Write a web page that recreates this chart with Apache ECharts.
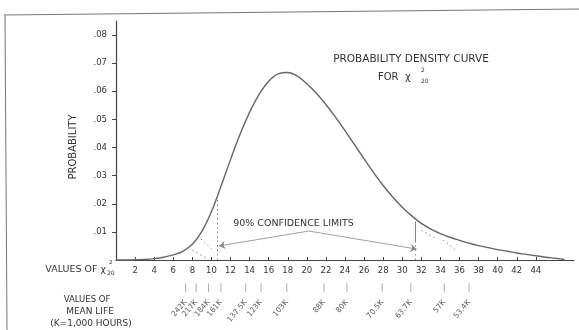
<!DOCTYPE html>
<html><head><meta charset="utf-8">
<script src="https://cdn.jsdelivr.net/npm/echarts@6/dist/echarts.min.js"></script>
<style>html,body{margin:0;padding:0;background:#fff}#c{width:579px;height:330px}</style>
</head><body><div id="c"></div>
<script>
// ---- data ----
const chiValues = [0,1,2,3,4,5,6,7,8,9,10,11,12,13,14,15,16,17,18,19,20,21,22,23,24,25,26,27,28,29,30,31,32,33,34,35,36,37,38,39,40,41,42,43,44,45,46,47];
const probability = [0,0,0.0001,0.0002,0.0005,0.0010,0.0018,0.0031,0.0056,0.0102,0.0172,0.0262,0.0357,0.0447,0.0525,0.0589,0.0636,0.0662,0.0667,0.0654,0.0627,0.0593,0.0553,0.0508,0.0460,0.0410,0.0360,0.0311,0.0265,0.0224,0.0188,0.0157,0.0130,0.0110,0.0094,0.0081,0.0070,0.0060,0.0051,0.0044,0.0037,0.0031,0.0025,0.0020,0.0015,0.0010,0.0006,0.0002];
const xTickValues = [2,4,6,8,10,12,14,16,18,20,22,24,26,28,30,32,34,36,38,40,42,44];
const yTickValues = [0.01,0.02,0.03,0.04,0.05,0.06,0.07,0.08];
const yTickLabels = ['.01','.02','.03','.04','.05','.06','.07','.08'];
const meanLifeLabels = ['242K','217K','184K','161K','137.5K','123K','103K','88K','80K','70.5K','63.7K','57K','53.4K'];
const meanLifePositions = [7.3,8.4,9.7,11.0,13.6,15.2,17.9,21.8,24.2,27.9,30.9,34.4,37.0];
const confidenceLimits = [10.6, 31.4];
const confidenceHeights = [0.0225, 0.0137];
const annotationApex = [20.2, 0.0103];
const annotationTips = [[10.8, 0.0050], [31.5, 0.0039]];
const annotationText = '90% CONFIDENCE LIMITS';
const annotationTextPos = [18.6, 0.0128];
const hatchSegments = [
  [[8.9, 0.0075], [10.3, 0.0030]],
  [[8.0, 0.0035], [9.6, 0.0004]],
  [[32.0, 0.0105], [33.6, 0.0075]],
  [[34.3, 0.0070], [35.8, 0.0030]]
];

const FONT = 'DejaVu Sans';
const TXT = '#333';
const curveData = chiValues.map((x, i) => [x, probability[i]]);
const dotted = {type: [1.5, 3], color: '#888', width: 1};

const chart = echarts.init(document.getElementById('c'), null, {renderer: 'canvas'});
chart.setOption({
  animation: false,
  backgroundColor: '#fff',
  grid: [
    {left: 116, right: 5, top: 21, bottom: 70, containLabel: false},
    {left: 116, right: 5, top: 280, height: 24, containLabel: false}
  ],
  xAxis: [{
    type: 'value', min: 0, max: 48, gridIndex: 0,
    axisLine: {show: true, onZero: false, lineStyle: {color: '#444', width: 1.2}},
    axisTick: {show: true, inside: true, length: 3, customValues: xTickValues, lineStyle: {color: '#444'}},
    axisLabel: {customValues: xTickValues, fontSize: 8.5, fontFamily: FONT, color: TXT, margin: 6, hideOverlap: false, showMinLabel: true, showMaxLabel: true},
    splitLine: {show: false}
  }, {
    type: 'value', min: 0, max: 48, gridIndex: 1, show: false
  }],
  yAxis: [{
    type: 'value', min: 0, max: 0.085, gridIndex: 0,
    axisLine: {show: true, lineStyle: {color: '#444', width: 1.2}},
    axisTick: {show: true, length: 4, customValues: yTickValues, lineStyle: {color: '#444'}},
    axisLabel: {customValues: yTickValues, fontSize: 8.5, fontFamily: FONT, color: TXT, margin: 9, showMinLabel: true, showMaxLabel: true,
      formatter: v => yTickLabels[yTickValues.indexOf(v)]},
    splitLine: {show: false}
  }, {
    type: 'value', min: -1, max: 1, gridIndex: 1, show: false
  }],
  series: [{
    type: 'line', data: curveData, smooth: 0.4, showSymbol: false, xAxisIndex: 0, yAxisIndex: 0,
    lineStyle: {color: '#666', width: 1.4},
    markLine: {
      silent: true, symbol: 'none', label: {show: false},
      data: [
        [{coord: [confidenceLimits[0], 0], lineStyle: dotted}, {coord: [confidenceLimits[0], confidenceHeights[0]]}],
        [{coord: [confidenceLimits[1], 0], lineStyle: dotted}, {coord: [confidenceLimits[1], confidenceHeights[1]]}],
        [{coord: [confidenceLimits[1], confidenceHeights[1] * 0.45], lineStyle: {type: 'solid', color: '#888', width: 1}}, {coord: [confidenceLimits[1], confidenceHeights[1]]}],
        [{coord: annotationApex, symbol: 'none', lineStyle: {type: 'solid', color: '#888', width: 0.8}}, {coord: annotationTips[0], symbol: 'arrow', symbolSize: 6}],
        [{coord: annotationApex, symbol: 'none', lineStyle: {type: 'solid', color: '#888', width: 0.8}}, {coord: annotationTips[1], symbol: 'arrow', symbolSize: 6}]
      ].concat(hatchSegments.map(s => [{coord: s[0], lineStyle: dotted}, {coord: s[1]}]))
    },
    markPoint: {
      silent: true, symbol: 'circle', symbolSize: 0,
      data: [{coord: annotationTextPos, label: {show: true, position: 'inside', formatter: annotationText, fontSize: 9.5, fontFamily: FONT, color: TXT}}]
    }
  }, {
    // small connector marks above the mean-life labels
    type: 'scatter', xAxisIndex: 1, yAxisIndex: 1, silent: true,
    data: meanLifePositions.map(p => [p, 0.35]),
    symbol: 'rect', symbolSize: [1, 9], itemStyle: {color: '#999'}
  }, {
    // mean-life labels
    type: 'scatter', xAxisIndex: 1, yAxisIndex: 1, silent: true,
    data: meanLifePositions.map((p, i) => ({value: [p, -0.75], name: meanLifeLabels[i]})),
    symbolSize: 0,
    label: {show: true, position: 'inside', formatter: '{b}', rotate: 50, align: 'right', verticalAlign: 'middle',
      fontSize: 7.5, fontFamily: FONT, color: TXT},
    labelLayout: {hideOverlap: false}
  }],
  graphic: [
    {type: 'line', shape: {x1: 4, y1: 15, x2: 579, y2: 9}, style: {stroke: '#777', lineWidth: 1}},
    {type: 'line', shape: {x1: 5, y1: 15, x2: 7, y2: 330}, style: {stroke: '#777', lineWidth: 1}},
    {type: 'text', x: 73, y: 147, rotation: Math.PI / 2, style: {text: 'PROBABILITY', font: '10px "DejaVu Sans"', fill: TXT, align: 'center', verticalAlign: 'middle'}},
    {type: 'text', x: 411, y: 59, style: {text: 'PROBABILITY DENSITY CURVE', font: '10.5px "DejaVu Sans"', fill: TXT, align: 'center', verticalAlign: 'middle'}},
    {type: 'text', x: 378, y: 77, style: {text: 'FOR  χ', font: '10px "DejaVu Sans"', fill: TXT, align: 'left', verticalAlign: 'middle'}},
    {type: 'text', x: 421, y: 70, style: {text: '2', font: '6px "DejaVu Sans"', fill: TXT, align: 'left', verticalAlign: 'middle'}},
    {type: 'text', x: 421, y: 81, style: {text: '20', font: '6px "DejaVu Sans"', fill: TXT, align: 'left', verticalAlign: 'middle'}},
    {type: 'text', x: 106, y: 270, style: {text: 'VALUES OF χ', font: '9.5px "DejaVu Sans"', fill: TXT, align: 'right', verticalAlign: 'middle'}},
    {type: 'text', x: 109, y: 263, style: {text: '2', font: '5.5px "DejaVu Sans"', fill: TXT, align: 'left', verticalAlign: 'middle'}},
    {type: 'text', x: 107, y: 273, style: {text: '20', font: '6px "DejaVu Sans"', fill: TXT, align: 'left', verticalAlign: 'middle'}},
    {type: 'text', x: 87, y: 300, style: {text: 'VALUES OF', font: '8.5px "DejaVu Sans"', fill: TXT, align: 'center', verticalAlign: 'middle'}},
    {type: 'text', x: 90, y: 312, style: {text: 'MEAN LIFE', font: '9px "DejaVu Sans"', fill: TXT, align: 'center', verticalAlign: 'middle'}},
    {type: 'text', x: 91, y: 324, style: {text: '(K=1,000 HOURS)', font: '9px "DejaVu Sans"', fill: TXT, align: 'center', verticalAlign: 'middle'}}
  ]
});
</script>
</body></html>
